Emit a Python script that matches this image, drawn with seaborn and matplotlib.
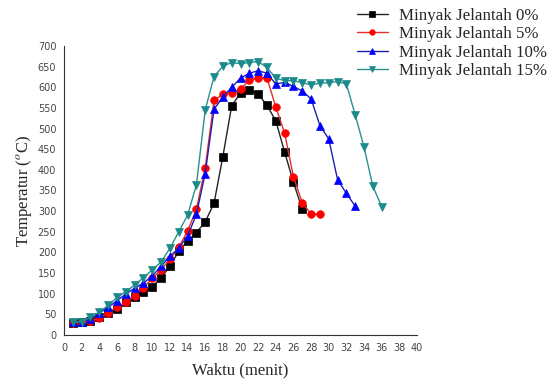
import matplotlib
matplotlib.use("Agg")
import matplotlib.pyplot as plt
from matplotlib.ticker import MultipleLocator
import seaborn as sns
import pandas as pd

# ---- data ----
t0 = list(range(1, 28))
y0 = [29, 31, 35, 43, 53, 63, 79, 93, 103, 117, 139, 166, 203, 227, 248, 274, 319,
      432, 555, 586, 594, 584, 556, 519, 443, 370, 304]
t5 = list(range(1, 30))
y5 = [30, 31, 33, 42, 54, 67, 79, 95, 115, 137, 158, 183, 212, 252, 304, 405, 568,
      583, 587, 595, 617, 623, 623, 552, 489, 383, 320, 293, 293]
t10 = list(range(1, 34))
y10 = [31, 32, 39, 53, 67, 83, 99, 113, 126, 143, 166, 191, 210, 240, 292, 391, 547,
       576, 600, 622, 634, 640, 634, 608, 612, 602, 591, 572, 507, 475, 376, 343, 312]
t15 = list(range(1, 37))
y15 = [31, 32, 43, 55, 72, 91, 105, 121, 139, 158, 177, 210, 250, 290, 363, 545, 626,
       651, 660, 657, 660, 662, 648, 622, 616, 616, 611, 606, 610, 611, 614, 608,
       533, 455, 360, 311]
labels = ["Minyak Jelantah 0%", "Minyak Jelantah 5%",
          "Minyak Jelantah 10%", "Minyak Jelantah 15%"]
xticks = list(range(0, 41, 2))
yticks = list(range(0, 701, 50))

series = [(t0, y0), (t5, y5), (t10, y10), (t15, y15)]
colors = ["#000000", "#ff0000", "#0000ff", "#1a8a8a"]
linecolors = ["#222222", "#e03030", "#2020b0", "#2a8f8f"]
markers = ["s", "o", "^", "v"]

sns.set_style("white")
plt.rcParams["mathtext.fontset"] = "stix"

fig = plt.figure(figsize=(5.52, 3.83), dpi=100)
ax = fig.add_axes([64 / 552, 1 - 335 / 383, (417 - 64) / 552, (335 - 46) / 383])

for (tx, ty), c, lc, m, lab in zip(series, colors, linecolors, markers, labels):
    df = pd.DataFrame({"t": tx, "v": ty})
    sns.lineplot(data=df, x="t", y="v", ax=ax, color=lc, linewidth=1.0,
                 marker=m, markersize=5.5, markerfacecolor=c, markeredgecolor=c,
                 markeredgewidth=0.5, label=lab)

ax.set_xlim(0, 40)
ax.set_ylim(0, 700)
ax.set_xticks(xticks)
ax.set_yticks(yticks)
ax.xaxis.set_minor_locator(MultipleLocator(1))
ax.yaxis.set_minor_locator(MultipleLocator(25))
ax.tick_params(axis="both", which="major", direction="out", length=3.5, width=0.8,
               labelsize=7, labelcolor="#444444", color="#333333", pad=2)
ax.tick_params(axis="both", which="minor", direction="out", length=2, width=0.6,
               color="#333333")
for s in ["top", "right"]:
    ax.spines[s].set_visible(False)
for s in ["left", "bottom"]:
    ax.spines[s].set_color("#333333")
    ax.spines[s].set_linewidth(0.8)

ax.set_xlabel("Waktu (menit)", family="Liberation Serif", fontsize=12, labelpad=7)
ax.set_ylabel(r"Temperatur ($^{o}$C)", family="Liberation Serif", fontsize=12,
              labelpad=3)

leg = ax.legend(loc="upper left", bbox_to_anchor=(357 / 552, 1 - 8 / 383),
                bbox_transform=fig.transFigure, frameon=False,
                prop={"family": "Liberation Serif", "size": 12.2},
                handlelength=1.8, handletextpad=0.7, labelspacing=0.14,
                borderpad=0, borderaxespad=0)
for h in leg.legend_handles:
    h.set_markersize(4)

fig.savefig("out.png", dpi=100)
